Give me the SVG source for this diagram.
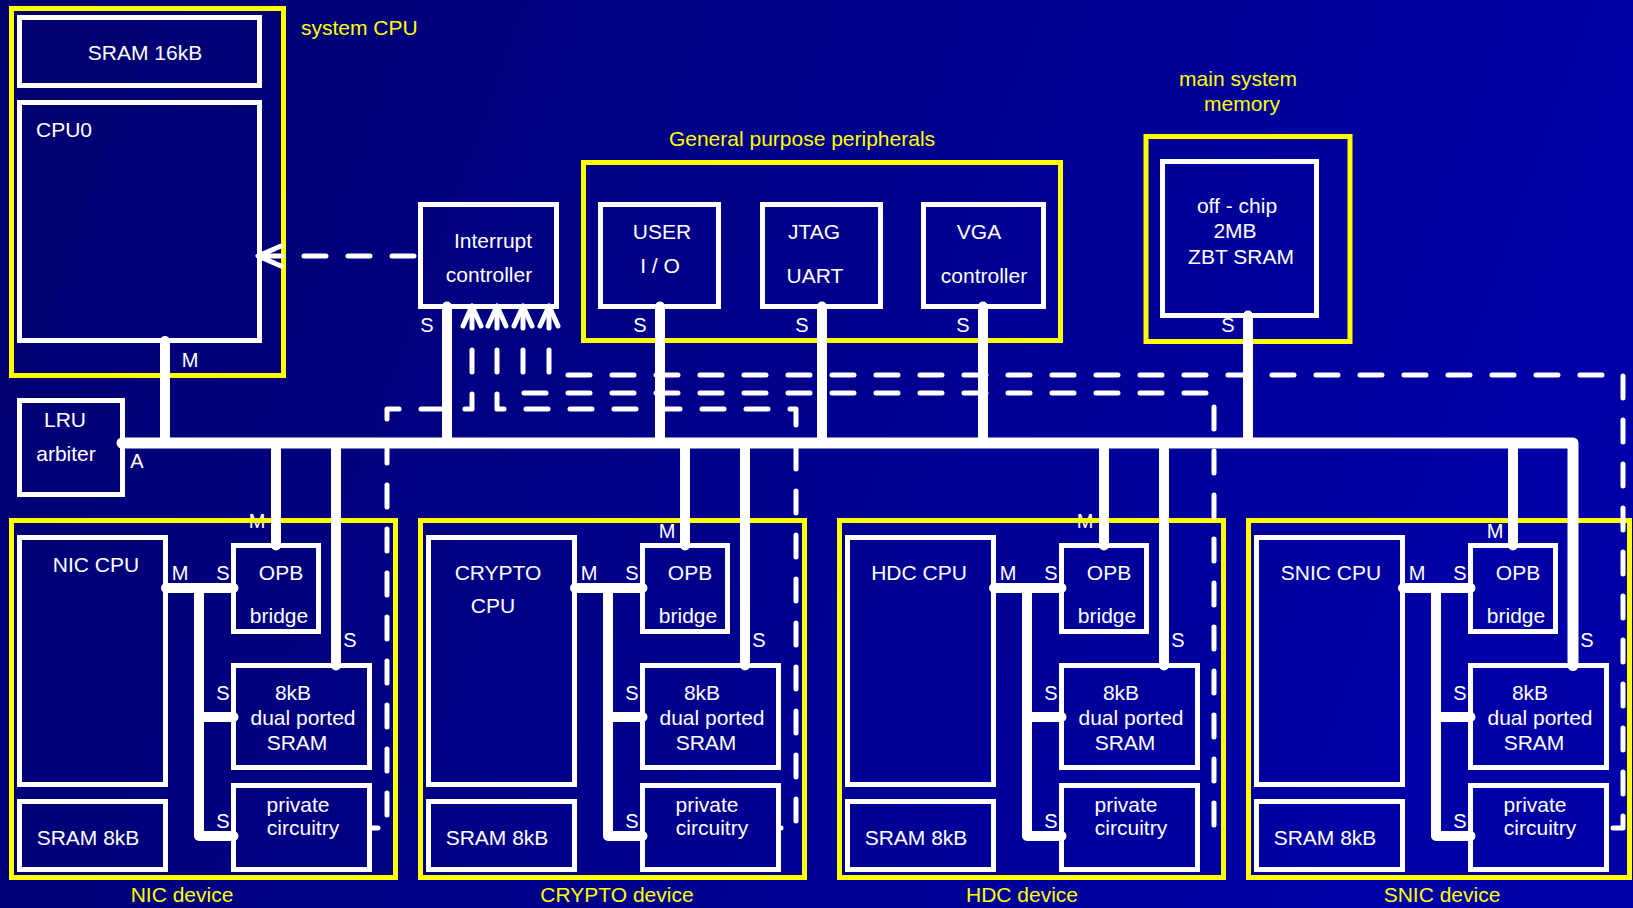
<svg xmlns="http://www.w3.org/2000/svg" width="1633" height="908" viewBox="0 0 1633 908">
<defs>
<linearGradient id="bg" x1="0" y1="0" x2="1" y2="0.2">
<stop offset="0" stop-color="#00006e"/>
<stop offset="1" stop-color="#0000a6"/>
</linearGradient>
</defs>
<style>
.yb{fill:none;stroke:#ffff00;stroke-width:5}
.wb{fill:none;stroke:#ffffff;stroke-width:5}
.t{font-family:"Liberation Sans",Arial,sans-serif;font-size:21px;fill:#ffffff}
.c{text-anchor:middle}
.y{fill:#ffff00}
.l{font-family:"Liberation Sans",Arial,sans-serif;font-size:20px;fill:#ffffff;text-anchor:middle}
.w{fill:none;stroke:#ffffff;stroke-width:10;stroke-linecap:round;stroke-linejoin:round}
.d{fill:none;stroke:#ffffff;stroke-width:5;stroke-linecap:round;stroke-linejoin:round;stroke-dasharray:22 22}
.a{fill:none;stroke:#ffffff;stroke-width:5;stroke-linecap:round;stroke-linejoin:round}
</style>
<rect x="0" y="0" width="1633" height="908" fill="url(#bg)"/>

<g id="system-cpu">
<rect class="yb" x="11.5" y="8.5" width="272" height="367"/>
<text class="t y" x="301" y="35">system CPU</text>
</g>
<g id="sram16">
<rect class="wb" x="19.5" y="17.5" width="240" height="68"/>
<text class="t c" x="145" y="60">SRAM 16kB</text>
</g>
<g id="cpu0">
<rect class="wb" x="19.5" y="102.5" width="240" height="238"/>
<text class="t" x="36" y="137">CPU0</text>
<text class="l" x="190" y="367">M</text>
</g>
<g id="lru">
<rect class="wb" x="19.5" y="400.5" width="103" height="94"/>
<text class="t c" x="65" y="427">LRU</text>
<text class="t c" x="66" y="461">arbiter</text>
<text class="l" x="137" y="468">A</text>
</g>
<g id="interrupt">
<rect class="wb" x="420.5" y="204.5" width="136" height="102"/>
<text class="t c" x="493" y="248">Interrupt</text>
<text class="t c" x="489" y="282">controller</text>
<text class="l" x="427" y="332">S</text>
</g>
<g id="gpp">
<rect class="yb" x="583.5" y="162.5" width="477" height="178"/>
<text class="t c y" x="802" y="146">General purpose peripherals</text>
</g>
<g id="userio">
<rect class="wb" x="600.5" y="204.5" width="118" height="102"/>
<text class="t c" x="662" y="239">USER</text>
<text class="t c" x="660" y="273">I / O</text>
<text class="l" x="640" y="332">S</text>
</g>
<g id="jtag">
<rect class="wb" x="762.5" y="204.5" width="118" height="102"/>
<text class="t c" x="814" y="239">JTAG</text>
<text class="t c" x="815" y="283">UART</text>
<text class="l" x="802" y="332">S</text>
</g>
<g id="vga">
<rect class="wb" x="923.5" y="204.5" width="120" height="102"/>
<text class="t c" x="979" y="239">VGA</text>
<text class="t c" x="984" y="283">controller</text>
<text class="l" x="963" y="332">S</text>
</g>
<g id="memory">
<rect class="yb" x="1146" y="136.5" width="204" height="205"/>
<text class="t c y" x="1238" y="86">main system</text>
<text class="t c y" x="1242" y="111">memory</text>
<rect class="wb" x="1162.5" y="161.5" width="154" height="154"/>
<text class="t c" x="1237" y="213">off - chip</text>
<text class="t c" x="1235" y="238">2MB</text>
<text class="t c" x="1241" y="264">ZBT SRAM</text>
<text class="l" x="1228" y="332">S</text>
</g>

<g id="nic" transform="translate(9,0)">
<text class="l" x="248" y="528">M</text>
<rect class="yb" x="2.5" y="520.5" width="384" height="357"/>
<rect class="wb" x="10.5" y="537.5" width="146" height="247"/>
<text class="t c" x="87" y="572">NIC CPU</text>
<rect class="wb" x="10.5" y="801.5" width="146" height="68"/>
<text class="t c" x="79" y="845">SRAM 8kB</text>
<rect class="wb" x="224.5" y="545.5" width="85" height="86"/>
<text class="t c" x="272" y="580">OPB</text>
<text class="t c" x="270" y="623">bridge</text>
<rect class="wb" x="224.5" y="665.5" width="136" height="102"/>
<text class="t c" x="284" y="700">8kB</text>
<text class="t c" x="294" y="725">dual ported</text>
<text class="t c" x="288" y="750">SRAM</text>
<rect class="wb" x="224.5" y="785.5" width="136" height="84"/>
<text class="t c" x="289" y="812">private</text>
<text class="t c" x="294" y="835">circuitry</text>
<text class="l" x="171" y="580">M</text>
<text class="l" x="214" y="580">S</text>
<text class="l" x="214" y="700">S</text>
<text class="l" x="214" y="828">S</text>
<text class="l" x="341" y="647">S</text>
<text class="t c y" x="173" y="902">NIC device</text>
</g>

<g id="crypto" transform="translate(418,0)">
<text class="l" x="249" y="538">M</text>
<rect class="yb" x="2.5" y="520.5" width="384" height="357"/>
<rect class="wb" x="10.5" y="537.5" width="146" height="247"/>
<text class="t c" x="80" y="580">CRYPTO</text>
<text class="t c" x="75" y="613">CPU</text>
<rect class="wb" x="10.5" y="801.5" width="146" height="68"/>
<text class="t c" x="79" y="845">SRAM 8kB</text>
<rect class="wb" x="224.5" y="545.5" width="85" height="86"/>
<text class="t c" x="272" y="580">OPB</text>
<text class="t c" x="270" y="623">bridge</text>
<rect class="wb" x="224.5" y="665.5" width="136" height="102"/>
<text class="t c" x="284" y="700">8kB</text>
<text class="t c" x="294" y="725">dual ported</text>
<text class="t c" x="288" y="750">SRAM</text>
<rect class="wb" x="224.5" y="785.5" width="136" height="84"/>
<text class="t c" x="289" y="812">private</text>
<text class="t c" x="294" y="835">circuitry</text>
<text class="l" x="171" y="580">M</text>
<text class="l" x="214" y="580">S</text>
<text class="l" x="214" y="700">S</text>
<text class="l" x="214" y="828">S</text>
<text class="l" x="341" y="647">S</text>
<text class="t c y" x="199" y="902">CRYPTO device</text>
</g>

<g id="hdc" transform="translate(837,0)">
<text class="l" x="248" y="528">M</text>
<rect class="yb" x="2.5" y="520.5" width="384" height="357"/>
<rect class="wb" x="10.5" y="537.5" width="146" height="247"/>
<text class="t c" x="82" y="580">HDC CPU</text>
<rect class="wb" x="10.5" y="801.5" width="146" height="68"/>
<text class="t c" x="79" y="845">SRAM 8kB</text>
<rect class="wb" x="224.5" y="545.5" width="85" height="86"/>
<text class="t c" x="272" y="580">OPB</text>
<text class="t c" x="270" y="623">bridge</text>
<rect class="wb" x="224.5" y="665.5" width="136" height="102"/>
<text class="t c" x="284" y="700">8kB</text>
<text class="t c" x="294" y="725">dual ported</text>
<text class="t c" x="288" y="750">SRAM</text>
<rect class="wb" x="224.5" y="785.5" width="136" height="84"/>
<text class="t c" x="289" y="812">private</text>
<text class="t c" x="294" y="835">circuitry</text>
<text class="l" x="171" y="580">M</text>
<text class="l" x="214" y="580">S</text>
<text class="l" x="214" y="700">S</text>
<text class="l" x="214" y="828">S</text>
<text class="l" x="341" y="647">S</text>
<text class="t c y" x="185" y="902">HDC device</text>
</g>

<g id="snic" transform="translate(1246,0)">
<text class="l" x="249" y="538">M</text>
<rect class="yb" x="2.5" y="520.5" width="381" height="357"/>
<rect class="wb" x="10.5" y="537.5" width="146" height="247"/>
<text class="t c" x="85" y="580">SNIC CPU</text>
<rect class="wb" x="10.5" y="801.5" width="146" height="68"/>
<text class="t c" x="79" y="845">SRAM 8kB</text>
<rect class="wb" x="224.5" y="545.5" width="85" height="86"/>
<text class="t c" x="272" y="580">OPB</text>
<text class="t c" x="270" y="623">bridge</text>
<rect class="wb" x="224.5" y="665.5" width="136" height="102"/>
<text class="t c" x="284" y="700">8kB</text>
<text class="t c" x="294" y="725">dual ported</text>
<text class="t c" x="288" y="750">SRAM</text>
<rect class="wb" x="224.5" y="785.5" width="136" height="84"/>
<text class="t c" x="289" y="812">private</text>
<text class="t c" x="294" y="835">circuitry</text>
<text class="l" x="171" y="580">M</text>
<text class="l" x="214" y="580">S</text>
<text class="l" x="214" y="700">S</text>
<text class="l" x="214" y="828">S</text>
<text class="l" x="341" y="647">S</text>
<text class="t c y" x="196" y="902">SNIC device</text>
</g>

<g id="connectors">
<path class="w" style="stroke-width:11" d="M122,443 H1573 V665.5"/>
<path class="w" d="M165,341 V443"/>
<path class="w" d="M447,306.5 V443"/>
<path class="w" d="M660,306.5 V443"/>
<path class="w" d="M822,306.5 V443"/>
<path class="w" d="M983,306.5 V443"/>
<path class="w" d="M1248,315.5 V443"/>
<path class="w" d="M276,443 V545.5 M336,443 V665.5"/>
<path class="w" d="M685,443 V545.5 M745,443 V665.5"/>
<path class="w" d="M1104,443 V545.5 M1164,443 V665.5"/>
<path class="w" d="M1513,443 V545.5"/>
<g transform="translate(9,0)"><path class="w" d="M157,588 H224.5 M190,588 V836 H224.5 M190,717 H224.5"/></g>
<g transform="translate(418,0)"><path class="w" d="M157,588 H224.5 M190,588 V836 H224.5 M190,717 H224.5"/></g>
<g transform="translate(837,0)"><path class="w" d="M157,588 H224.5 M190,588 V836 H224.5 M190,717 H224.5"/></g>
<g transform="translate(1246,0)"><path class="w" d="M157,588 H224.5 M190,588 V836 H224.5 M190,717 H224.5"/></g>
<path class="d" d="M414,256 H262"/>
<path class="a" d="M281,246 L258,256 L281,266"/>
<path class="d" d="M472,306 V409 H387 V828 H371"/>
<path class="d" d="M497,306 V409 H796 V828 H780"/>
<path class="d" d="M523,306 V393 H1214 V828 H1199"/>
<path class="d" d="M549,306 V375 H1623 V828 H1608"/>
<path class="a" d="M463,326 L472,306 L481,326 M488,326 L497,306 L506,326 M514,326 L523,306 L532,326 M540,326 L549,306 L558,326"/>
</g>
</svg>
